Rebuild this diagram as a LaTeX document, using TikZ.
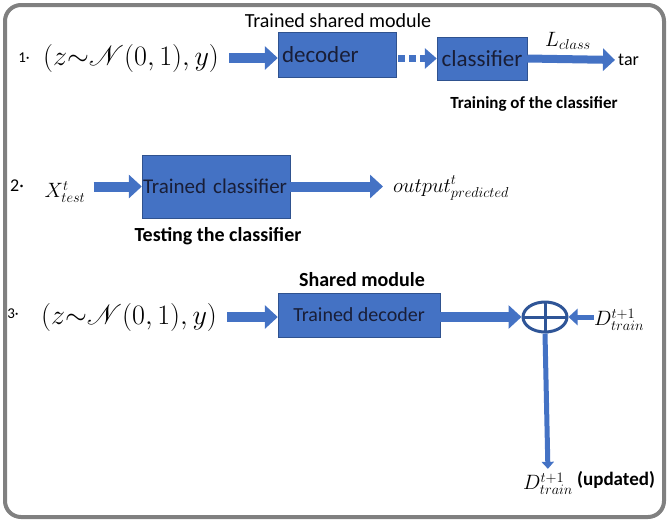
\documentclass[tikz,border=0pt]{standalone}
\usepackage{fontspec}
\setmainfont{Carlito}
\usepackage{mathrsfs}
\usetikzlibrary{arrows.meta, positioning, shapes.geometric}

\definecolor{boxblue}{RGB}{68,114,196}
\definecolor{boxedge}{RGB}{47,82,143}
\definecolor{boxtext}{RGB}{25,30,55}
\definecolor{ringblue}{RGB}{47,85,151}
\definecolor{framegray}{RGB}{128,128,128}

\begin{document}
\begin{tikzpicture}[x=1pt, y=-1pt,
  block/.style={draw=boxedge, fill=boxblue, text=boxtext, font=\fontsize{21}{24}\selectfont, inner sep=0pt},
  fat/.style={boxblue, line width=10pt, -{Triangle[length=13pt, width=23pt]}},
  dotfat/.style={boxblue, line width=7pt, dash pattern=on 7pt off 4pt, -{Triangle[length=12pt, width=20pt]}},
  midarrow/.style={boxblue, line width=8pt, -{Triangle[length=12pt, width=22pt]}},
  slimarrow/.style={boxblue, line width=5pt, -{Triangle[length=9pt, width=16pt]}},
  downarrow/.style={boxblue, line width=5pt, -{Triangle[length=7pt, width=12pt]}},
  toplabel/.style={font=\fontsize{20}{24}\selectfont},
  caption/.style={font=\fontsize{18}{22}\selectfont\bfseries},
  mathin/.style={font=\fontsize{24.88}{30}\selectfont, inner sep=0pt, scale=1.13, transform shape},
  mathsm/.style={font=\fontsize{20.74}{24}\selectfont, inner sep=0pt},
  num/.style={font=\fontsize{15}{18}\selectfont}]

  \useasboundingbox (0,0) rectangle (669,523);

  % Frame
  \draw[framegray, line width=4pt, rounded corners=16pt] (5,5) rectangle (664,517);

  % Row 1: training of the classifier
  \node[num] (n1) at (24,58) {1·};
  \node[mathin] (in1) at (131,58) {$(z{\sim}\mathscr{N}(0,1),y)$};
  \node[block, font=\fontsize{23}{26}\selectfont, text width=110pt, inner xsep=4pt, align=left, minimum height=45pt] (dec1) at (337,54.5) {decoder};
  \node[toplabel] (sh1) at (338,21) {Trained shared module};
  \node[block, font=\fontsize{23}{26}\selectfont, minimum width=90pt, minimum height=43pt] (cls1) at (482,58.5) {classifier};
  \node[toplabel, font=\fontsize{18}{22}\selectfont, anchor=west, inner sep=0pt] (tar) at (618,60) {tar};
  \node[mathsm] (lcls) at (568,41) {$L_{class}$};
  \node[caption, font=\fontsize{17}{20}\selectfont\bfseries] (cap1) at (534,104) {Training of the classifier};

  \draw[fat, shorten <=10pt] (in1.east) -- (in1.east -| dec1.west);
  \draw[dotfat, shorten <=2pt] (dec1.east |- cls1) -- (cls1.west);
  \draw[midarrow, shorten >=3pt] (cls1.east) -- (tar.west);

  % Row 2: testing
  \node[font=\fontsize{18}{22}\selectfont] (n2) at (17,186) {2·};
  \node[mathsm] (in2) at (65,192) {$X^t_{test}$};
  \node[block, text width=146pt, inner xsep=1pt, align=left, minimum height=63pt] (tcls) at (216,186.5) {\mbox{Trained classifier}};
  \node[mathsm, anchor=west] (out2) at (393,188) {$output^t_{predicted}$};
  \node[caption, font=\fontsize{20}{24}\selectfont\bfseries] (cap2) at (218,236) {Testing the classifier};

  \draw[fat, shorten <=8pt] (in2.east |- tcls) -- (tcls.west);
  \draw[fat, shorten >=10pt] (tcls.east) -- (out2.west |- tcls);

  % Row 3: updating the training set
  \node[num] (n3) at (13,314) {3·};
  \node[mathin] (in3) at (129,317) {$(z{\sim}\mathscr{N}(0,1),y)$};
  \node[block, font=\fontsize{20}{24}\selectfont, minimum width=162pt, minimum height=44pt] (tdec) at (359,315) {Trained decoder};
  \node[caption, font=\fontsize{20}{24}\selectfont\bfseries] (sh3) at (362,280) {Shared module};
  \node[draw=ringblue, line width=3pt, ellipse, minimum width=44pt, minimum height=30pt, inner sep=0pt] (plus) at (545,317) {};
  \node[mathsm, anchor=west] (din) at (594,320) {$D^{t+1}_{train}$};
  \node[mathsm] (dout) at (548,484) {$D^{t+1}_{train}$};
  \node[caption, font=\fontsize{19}{22}\selectfont\bfseries, anchor=west, inner sep=0pt] (upd) at (577,480) {(updated)};

  \draw[ringblue, line width=3pt, shorten <=1.5pt, shorten >=1.5pt] (plus.north) -- (plus.south);
  \draw[ringblue, line width=3pt, shorten <=1.5pt, shorten >=1.5pt] (plus.west) -- (plus.east);

  \draw[fat, shorten <=10pt] (in3.east) -- (in3.east -| tdec.west);
  \draw[fat] (tdec.east |- plus) -- (plus.west);
  \draw[slimarrow] (din.west |- plus) -- (plus.east);
  \draw[downarrow, shorten >=4pt] (plus.south) -- (dout.north);

\end{tikzpicture}
\end{document}
